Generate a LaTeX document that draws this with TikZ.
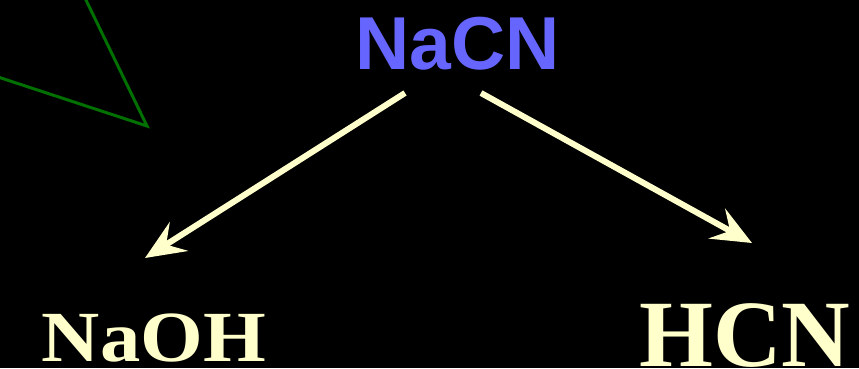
\documentclass[tikz,border=0pt]{standalone}
\usepackage{fontspec}
\setmainfont{Liberation Serif}
\newfontfamily\arialfont{Liberation Sans}
\usetikzlibrary{arrows.meta}
\definecolor{cream}{HTML}{FFFFCC}
\definecolor{nablue}{HTML}{6666FF}
\definecolor{ggreen}{HTML}{007000}
\tikzset{
  reacarrow/.style={draw=cream, line width=6pt, -{Stealth[length=40pt, width=34pt, inset=15pt]}},
  chemlbl/.style={text=cream, font=\bfseries, inner sep=0pt, anchor=base},
}
\begin{document}
\begin{tikzpicture}[x=1pt,y=-1pt]
\fill[black] (0,0) rectangle (859,368);
\useasboundingbox (0,0) rectangle (859,368);
% green lines
\draw[ggreen, line width=3pt, line join=miter] (85,-2) -- (147,126) -- (-2,77);
% labels
\node[inner sep=0pt, anchor=base, text=nablue, font=\arialfont\bfseries\fontsize{75}{80}\selectfont] (nacn) at (457.5,69) {NaCN};
\node[chemlbl, font=\bfseries\fontsize{72}{76}\selectfont, xscale=1.12] (naoh) at (154,361) {NaOH};
\node[chemlbl, font=\bfseries\fontsize{95}{100}\selectfont] (hcn) at (745,366) {HCN};
% arrows
\coordinate (s1) at (405,93);
\coordinate (e1) at (145,258);
\coordinate (s2) at (481,93);
\coordinate (e2) at (752,243);
\draw[reacarrow] (s1) -- (e1);
\draw[reacarrow] (s2) -- (e2);
\end{tikzpicture}
\end{document}
